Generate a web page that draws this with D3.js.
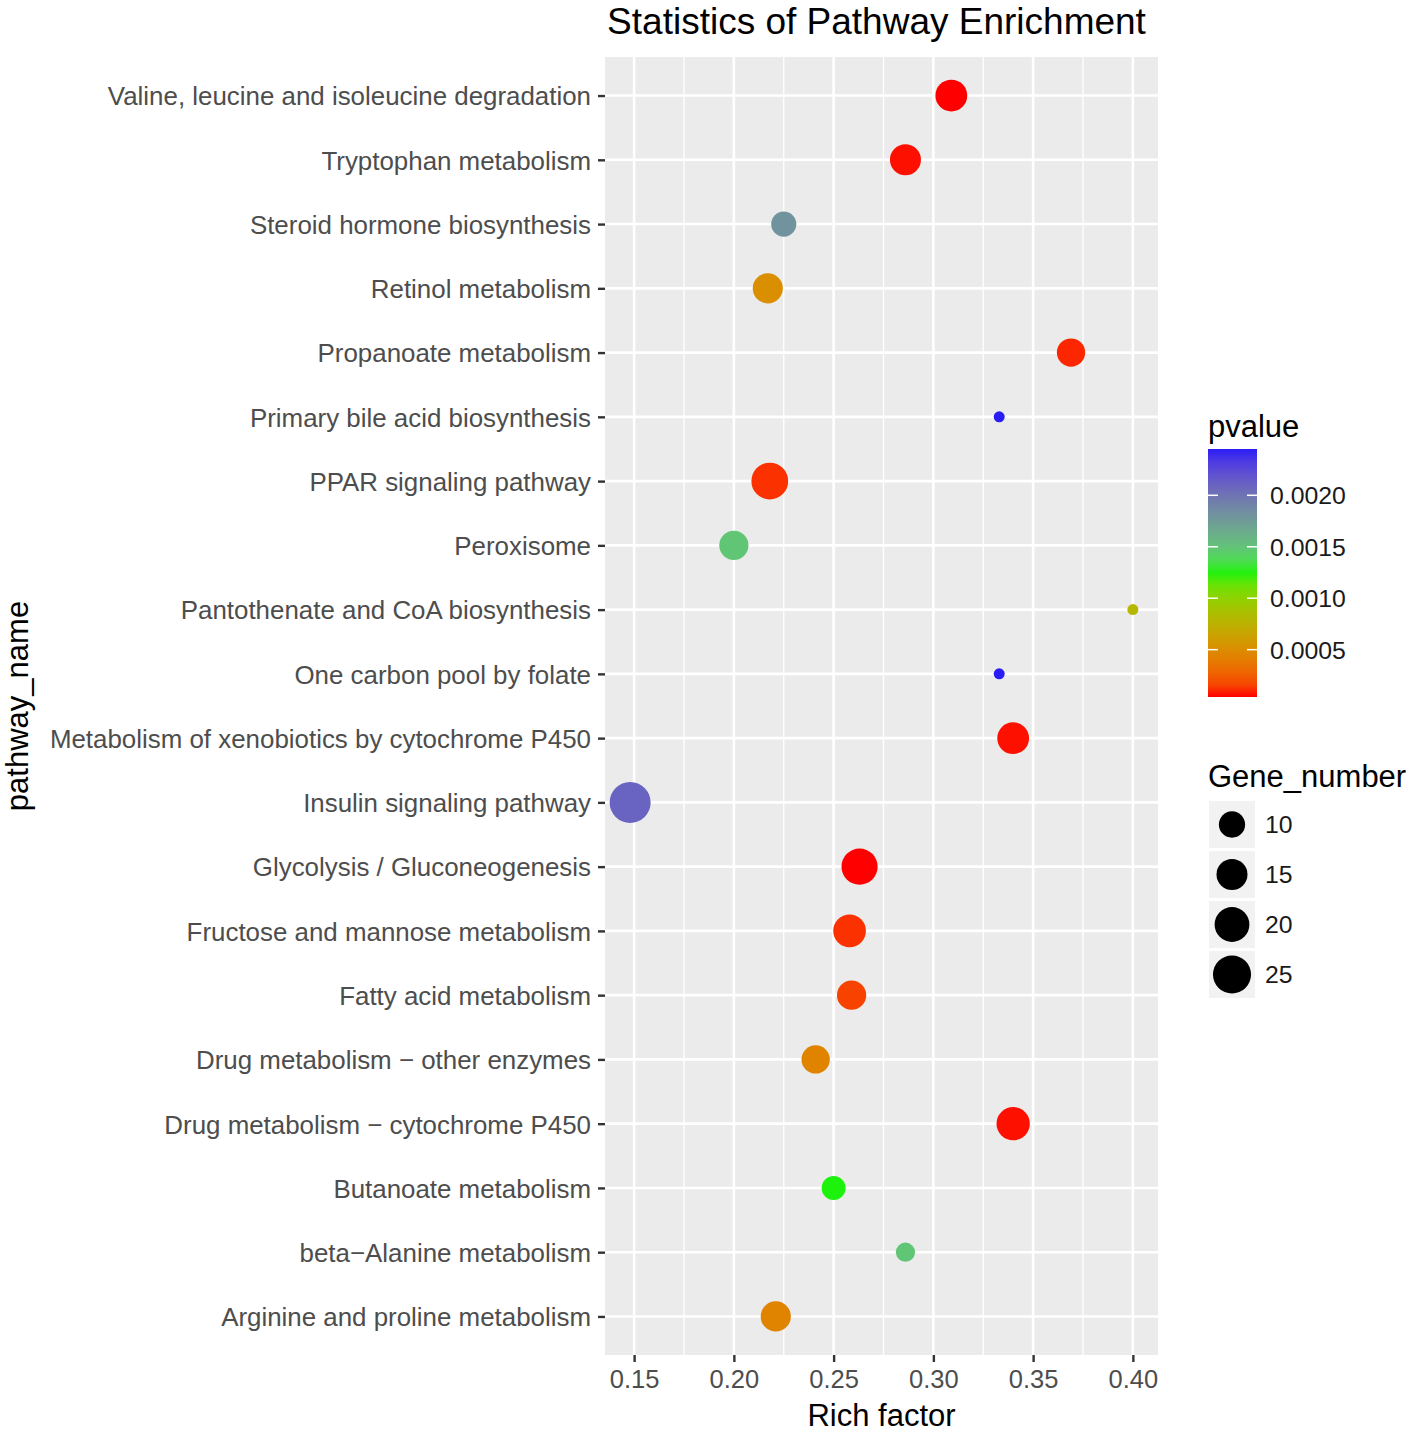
<!DOCTYPE html>
<html lang="en">
<head>
  <meta charset="UTF-8">
  <title>Statistics of Pathway Enrichment</title>
  <style>
    body { margin: 0; background: #fff; }
    svg text { font-family: "Liberation Sans", Arial, Helvetica, sans-serif; }
  </style>
</head>
<body>
  <svg id="chart" width="1418" height="1433"></svg>

  <script src="https://d3js.org/d3.v7.min.js"></script>
  <script>
    // data, top row first
    const pathways = [
      "Valine, leucine and isoleucine degradation",
      "Tryptophan metabolism",
      "Steroid hormone biosynthesis",
      "Retinol metabolism",
      "Propanoate metabolism",
      "Primary bile acid biosynthesis",
      "PPAR signaling pathway",
      "Peroxisome",
      "Pantothenate and CoA biosynthesis",
      "One carbon pool by folate",
      "Metabolism of xenobiotics by cytochrome P450",
      "Insulin signaling pathway",
      "Glycolysis / Gluconeogenesis",
      "Fructose and mannose metabolism",
      "Fatty acid metabolism",
      "Drug metabolism \u2212 other enzymes",
      "Drug metabolism \u2212 cytochrome P450",
      "Butanoate metabolism",
      "beta\u2212Alanine metabolism",
      "Arginine and proline metabolism"
    ];
    const richFactor = [0.309, 0.286, 0.225, 0.217, 0.369, 0.333, 0.218, 0.200, 0.400, 0.333,
                        0.340, 0.148, 0.263, 0.258, 0.259, 0.241, 0.340, 0.250, 0.286, 0.221];
    const geneNumber = [16, 15, 9, 14, 12, 3, 23, 13, 3, 3,
                        16, 30, 22, 17, 13, 12, 18, 8, 5, 14];
    const pvalue = [0.00004, 0.00005, 0.0018, 0.00052, 0.00008, 0.00245, 0.0001, 0.00148, 0.0008, 0.00245,
                    0.00005, 0.0021, 0.00004, 0.0001, 0.00015, 0.00045, 0.00005, 0.00125, 0.00148, 0.00045];

    const xTicks = [0.15, 0.20, 0.25, 0.30, 0.35, 0.40];
    const xMinor = [0.175, 0.225, 0.275, 0.325, 0.375];
    const pTicks = [0.0005, 0.0010, 0.0015, 0.0020];
    const sizeBreaks = [10, 15, 20, 25];

    // colour ramp
    const pStops = [0.00004, 0.0005, 0.0010, 0.00125, 0.0015, 0.0020, 0.00245];
    const pColors = ["#ff0000", "#db8c00", "#8fd100", "#1cf20c", "#62c27a", "#6f74b2", "#2a1cf5"];

    const data = pathways.map((name, i) => ({
      name, rich: richFactor[i], genes: geneNumber[i], p: pvalue[i]
    }));

    const svg = d3.select("#chart");
    const panel = { left: 605, right: 1158, top: 57, bottom: 1355 };

    // ggplot style 5% expansion
    const xr = d3.extent(richFactor);
    const pad = (xr[1] - xr[0]) * 0.05;
    const x = d3.scaleLinear().domain([xr[0] - pad, xr[1] + pad]).range([panel.left, panel.right]);
    const y = d3.scalePoint().domain(pathways).range([panel.top, panel.bottom]).padding(0.6);

    const color = d3.scaleLinear().domain(pStops).range(pColors).interpolate(d3.interpolateLab).clamp(true);

    // area scale like scale_size: r = min + sqrt(t) * (max - min)
    const gMin = 3, gMax = d3.max(geneNumber);
    const rT = d3.scaleLinear().domain([0, 1]).range([5.5, 20.5]);
    const radius = v => rT(Math.sqrt(Math.max(0, v - gMin) / (gMax - gMin)));

    // panel
    svg.append("rect")
      .attr("x", panel.left).attr("y", panel.top)
      .attr("width", panel.right - panel.left).attr("height", panel.bottom - panel.top)
      .attr("fill", "#ebebeb");

    const grid = svg.append("g").attr("stroke", "#fff");
    grid.selectAll(".minor").data(xMinor).join("line")
      .attr("x1", d => x(d)).attr("x2", d => x(d))
      .attr("y1", panel.top).attr("y2", panel.bottom)
      .attr("stroke-width", 1.3);
    grid.selectAll(".majx").data(xTicks).join("line")
      .attr("x1", d => x(d)).attr("x2", d => x(d))
      .attr("y1", panel.top).attr("y2", panel.bottom)
      .attr("stroke-width", 2.6);
    grid.selectAll(".majy").data(pathways).join("line")
      .attr("x1", panel.left).attr("x2", panel.right)
      .attr("y1", d => y(d)).attr("y2", d => y(d))
      .attr("stroke-width", 2.6);

    // points
    svg.append("g").selectAll("circle")
      .data(data)
      .join("circle")
      .attr("cx", d => x(d.rich))
      .attr("cy", d => y(d.name))
      .attr("r", d => radius(d.genes))
      .attr("fill", d => color(d.p));

    // axes
    const xAxis = svg.append("g").attr("transform", `translate(0,${panel.bottom})`)
      .call(d3.axisBottom(x).tickValues(xTicks).tickFormat(d3.format(".2f")).tickSize(7).tickPadding(6));
    const yAxis = svg.append("g").attr("transform", `translate(${panel.left},0)`)
      .call(d3.axisLeft(y).tickSize(7).tickPadding(7));
    [xAxis, yAxis].forEach(a => {
      a.select(".domain").remove();
      a.selectAll(".tick line").attr("stroke", "#333").attr("stroke-width", 2.4);
      a.selectAll(".tick text").attr("fill", "#4d4d4d");
    });
    yAxis.selectAll(".tick text").attr("dy", "0.36em").style("font-size", "25.9px");
    xAxis.selectAll(".tick text").attr("dy", "0.8em").style("font-size", "25.5px");

    svg.append("text")
      .attr("x", (panel.left + panel.right) / 2 - 5).attr("y", 34)
      .attr("text-anchor", "middle").style("font-size", "37px").attr("fill", "#000")
      .text("Statistics of Pathway Enrichment");
    svg.append("text")
      .attr("x", (panel.left + panel.right) / 2).attr("y", 1426)
      .attr("text-anchor", "middle").style("font-size", "31px").attr("fill", "#000")
      .text("Rich factor");
    svg.append("text")
      .attr("transform", `translate(28,${(panel.top + panel.bottom) / 2}) rotate(-90)`)
      .attr("text-anchor", "middle").style("font-size", "31px").attr("fill", "#000")
      .text("pathway_name");

    // colour bar legend
    const bar = { x: 1208, w: 49, top: 449, bottom: 697 };
    const pScale = d3.scaleLinear().domain([pStops[0], pStops[pStops.length - 1]]).range([bar.bottom, bar.top]);
    const grad = svg.append("defs").append("linearGradient")
      .attr("id", "pgrad").attr("x1", 0).attr("y1", 1).attr("x2", 0).attr("y2", 0);
    grad.selectAll("stop").data(d3.range(0, 1.0001, 0.05)).join("stop")
      .attr("offset", d => d)
      .attr("stop-color", d => color(pScale.domain()[0] + d * (pScale.domain()[1] - pScale.domain()[0])));

    svg.append("text").attr("x", 1208).attr("y", 437)
      .style("font-size", "31px").attr("fill", "#000").text("pvalue");
    svg.append("rect").attr("x", bar.x).attr("y", bar.top)
      .attr("width", bar.w).attr("height", bar.bottom - bar.top).attr("fill", "url(#pgrad)");
    const pt = svg.append("g").selectAll("g").data(pTicks).join("g")
      .attr("transform", d => `translate(0,${pScale(d)})`);
    pt.append("line").attr("x1", bar.x).attr("x2", bar.x + 10).attr("stroke", "#fff").attr("stroke-width", 1.5);
    pt.append("line").attr("x1", bar.x + bar.w - 10).attr("x2", bar.x + bar.w).attr("stroke", "#fff").attr("stroke-width", 1.5);
    pt.append("text").attr("x", 1270).attr("dy", "0.36em")
      .style("font-size", "24.8px").attr("fill", "#1a1a1a")
      .text(d3.format(".4f"));

    // size legend
    svg.append("text").attr("x", 1208).attr("y", 787)
      .style("font-size", "31px").attr("fill", "#000").text("Gene_number");
    const keys = svg.append("g").selectAll("g").data(sizeBreaks).join("g")
      .attr("transform", (d, i) => `translate(1209,${801 + i * 50})`);
    keys.append("rect").attr("width", 46).attr("height", 47).attr("fill", "#f2f2f2");
    keys.append("circle").attr("cx", 23).attr("cy", 23.5).attr("r", d => radius(d)).attr("fill", "#000");
    keys.append("text").attr("x", 56).attr("y", 23.5).attr("dy", "0.36em")
      .style("font-size", "24.8px").attr("fill", "#1a1a1a").text(d => d);
  </script>
</body>
</html>
